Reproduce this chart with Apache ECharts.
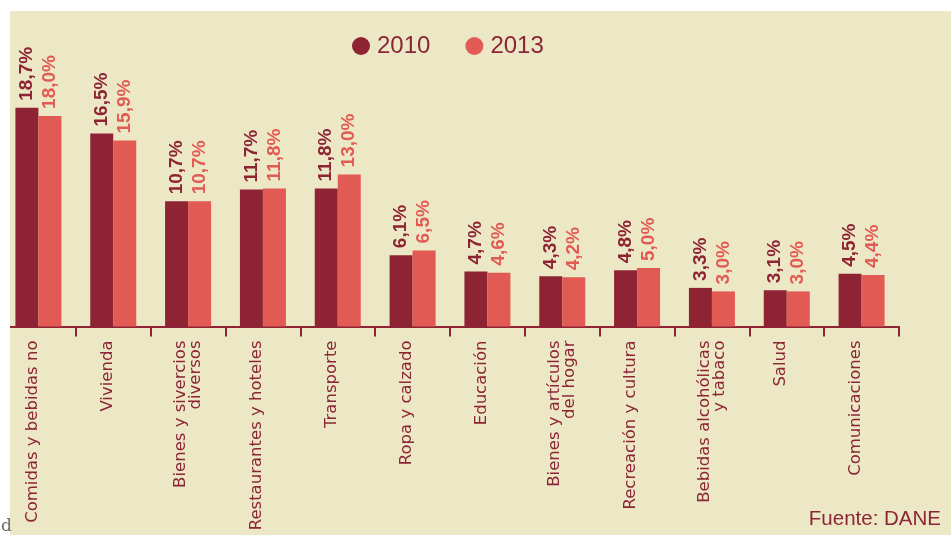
<!DOCTYPE html>
<html>
<head>
<meta charset="utf-8">
<script src="https://cdn.jsdelivr.net/npm/echarts@6/dist/echarts.min.js"></script>
<style>
  html, body { margin: 0; padding: 0; background: #ffffff; width: 951px; height: 535px; overflow: hidden; position: relative; }
  #panel { position: absolute; left: 10px; top: 11px; width: 941px; height: 524px; background: #ECE8C6; overflow: hidden; }
  #chart { position: absolute; left: -9px; top: 0; width: 950px; height: 524px; }
  #stray { position: absolute; left: 1px; top: 515px; font: 17px "DejaVu Serif", serif; color: #6a6a6a; }
</style>
</head>
<body>
<div id="panel"><div id="chart"></div></div>
<span id="stray">d</span>
<script>
// Gasto de los hogares por grupo (%), 2010 vs 2013
const categories = [
  'Comidas y bebidas no',
  'Vivienda',
  'Bienes y sivercios\ndiversos',
  'Restaurantes y hoteles',
  'Transporte',
  'Ropa y calzado',
  'Educación',
  'Bienes y artículos\ndel hogar',
  'Recreación y cultura',
  'Bebidas alcohólicas\ny tabaco',
  'Salud',
  'Comunicaciones'
];
const values2010 = [18.7, 16.5, 10.7, 11.7, 11.8, 6.1, 4.7, 4.3, 4.8, 3.3, 3.1, 4.5];
const values2013 = [18.0, 15.9, 10.7, 11.8, 13.0, 6.5, 4.6, 4.2, 5.0, 3.0, 3.0, 4.4];
const seriesNames = ['2010', '2013'];

const DARK = '#8E2334';
const LIGHT = '#E25A54';
const TEXT = '#8C2536';

const fmt = p => p.value.toFixed(1).replace('.', ',') + '%';

// single-line category names sit a little left of the group centre
const catLabel = v => v.indexOf('\n') < 0 ? v + '\n{gap| }' : v;

function valueLabel(color) {
  return {
    show: true,
    position: 'top',
    rotate: 90,
    align: 'left',
    verticalAlign: 'middle',
    distance: 7,
    formatter: fmt,
    color: color,
    fontFamily: '"Liberation Sans", Arial, sans-serif',
    fontWeight: 'bold',
    fontSize: 19
  };
}

const chart = echarts.init(document.getElementById('chart'), null, { renderer: 'canvas' });
chart.setOption({
  backgroundColor: 'transparent',
  animation: false,
  legend: {
    data: seriesNames,
    left: 346,
    top: 18,
    icon: 'circle',
    itemWidth: 18,
    itemHeight: 18,
    itemGap: 35,
    textStyle: { color: TEXT, fontSize: 24, padding: [0, 0, 0, 2], fontFamily: '"Liberation Sans", Arial, sans-serif' }
  },
  grid: { left: 0, right: 52, top: 81.5, bottom: 208.5, containLabel: false },
  xAxis: {
    type: 'category',
    data: categories,
    axisLine: { lineStyle: { color: DARK, width: 2 } },
    axisTick: { show: true, length: 10, lineStyle: { color: DARK, width: 2 } },
    axisLabel: {
      rotate: 90,
      margin: 14,
      interval: 0,
      color: TEXT,
      fontSize: 16.5,
      lineHeight: 15,
      fontFamily: '"DejaVu Sans", Verdana, sans-serif',
      formatter: catLabel,
      rich: { gap: { fontSize: 4, lineHeight: 12 } }
    }
  },
  yAxis: {
    type: 'value',
    min: 0,
    max: 20,
    show: false,
    splitLine: { show: false }
  },
  series: [
    {
      name: seriesNames[0],
      type: 'bar',
      data: values2010,
      barWidth: 23,
      barGap: '0%',
      itemStyle: { color: DARK },
      label: valueLabel(DARK)
    },
    {
      name: seriesNames[1],
      type: 'bar',
      data: values2013,
      barWidth: 23,
      barGap: '0%',
      itemStyle: { color: LIGHT },
      label: valueLabel(LIGHT)
    }
  ],
  graphic: [
    {
      type: 'text',
      right: 10,
      bottom: 5,
      style: {
        text: 'Fuente: DANE',
        fill: TEXT,
        fontSize: 20.5,
        fontFamily: '"Liberation Sans", Arial, sans-serif'
      }
    }
  ]
});
</script>
</body>
</html>
